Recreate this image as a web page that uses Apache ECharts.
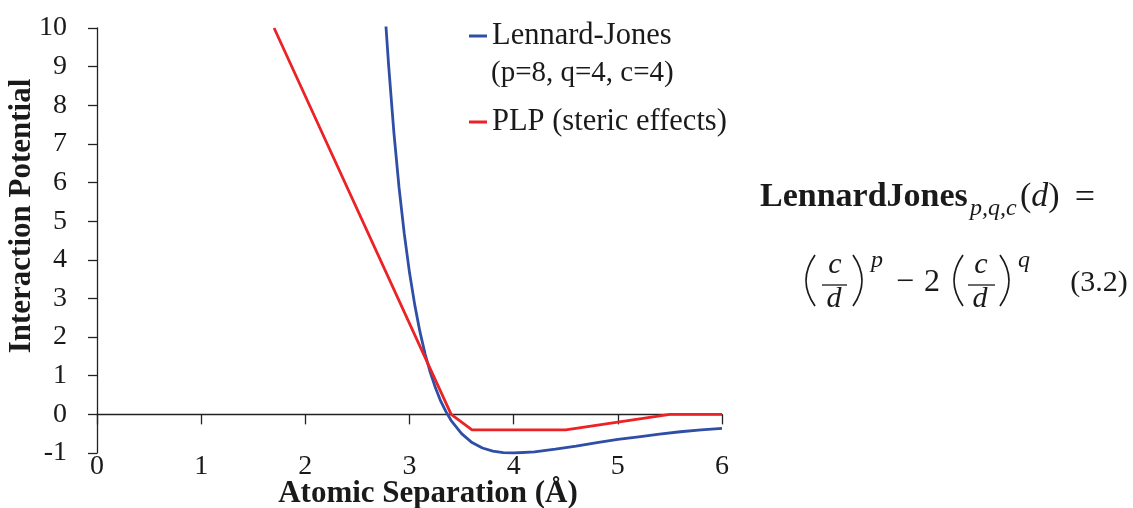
<!DOCTYPE html>
<html>
<head>
<meta charset="utf-8">
<script src="https://cdn.jsdelivr.net/npm/echarts@6/dist/echarts.min.js"></script>
<style>html,body{margin:0;padding:0;background:#fff;}#c{width:1133px;height:508px;}</style>
</head>
<body>
<div id="c"></div>
<script>
// ---- data ----
const xTicks = [0, 1, 2, 3, 4, 5, 6];
const yTicks = [-1, 0, 1, 2, 3, 4, 5, 6, 7, 8, 9, 10];
const ljName = 'Lennard-Jones';
const ljParams = '(p=8, q=4, c=4)';
const plpName = 'PLP (steric effects)';
const ljD = [2.77, 2.8, 2.85, 2.9, 2.95, 3.0, 3.05, 3.1, 3.15, 3.2, 3.25, 3.3, 3.35, 3.4, 3.5, 3.6, 3.7, 3.8, 3.9, 4.0, 4.2, 4.4, 4.6, 4.8, 5.0, 5.2, 5.4, 5.6, 5.8, 6.0];
const ljV = [10.2, 9.02, 7.30, 5.86, 4.67, 3.67, 2.84, 2.14, 1.56, 1.08, 0.68, 0.34, 0.07, -0.16, -0.50, -0.73, -0.87, -0.95, -0.99, -1.0, -0.97, -0.90, -0.82, -0.73, -0.65, -0.58, -0.51, -0.45, -0.40, -0.36];
const plpD = [1.7, 3.4, 3.6, 4.5, 5.5, 6.0];
const plpV = [10, 0, -0.4, -0.4, 0, 0];
const xTitle = 'Atomic Separation (Å)';
const yTitle = 'Interaction Potential';

const FONT = "'Liberation Serif', 'DejaVu Serif', serif";
const BLUE = '#2f4ea6';
const RED = '#ec2226';
const AX = '#222';
const TXT = '#1a1a1a';

const chart = echarts.init(document.getElementById('c'));
const G = {left: 97, top: 28, right: 411, bottom: 55};

function t(x, y, text, font, extra) {
  return {type: 'text', x: x, y: y, style: Object.assign({text: text, font: font + ' ' + FONT, fill: TXT, align: 'center', verticalAlign: 'middle'}, extra || {})};
}
// thin formula parenthesis (decoration)
function paren(xEdge, bulge) {
  return {type: 'bezierCurve', shape: {x1: xEdge, y1: 255, x2: xEdge, y2: 306, cpx1: xEdge + bulge, cpy1: 280.5},
    style: {stroke: TXT, lineWidth: 1.7, fill: null}};
}

chart.setOption({
  animation: false,
  backgroundColor: '#fff',
  grid: G,
  legend: {
    orient: 'vertical',
    left: 469, top: 20, padding: 0,
    itemWidth: 18, itemHeight: 3, itemGap: 54,
    icon: 'rect',
    textStyle: {fontFamily: FONT, fontSize: 30.5, color: TXT, lineHeight: 32},
    data: [ljName, plpName]
  },
  xAxis: [
    {type: 'value', min: xTicks[0], max: xTicks[xTicks.length - 1], interval: 1, position: 'top',
     axisLine: {show: true, onZero: true, lineStyle: {color: AX, width: 1.3}},
     axisTick: {show: true, inside: true, length: 10, lineStyle: {color: AX, width: 1.3}},
     axisLabel: {show: false}, splitLine: {show: false}},
    {type: 'value', min: xTicks[0], max: xTicks[xTicks.length - 1], interval: 1, position: 'bottom',
     axisLine: {show: false, onZero: false}, axisTick: {show: false}, splitLine: {show: false},
     axisLabel: {show: true, margin: 0, fontFamily: FONT, fontSize: 28, color: TXT,
       formatter: v => xTicks.includes(v) ? String(v) : ''}}
  ],
  yAxis: {
    type: 'value', min: yTicks[0], max: yTicks[yTicks.length - 1], interval: 1,
    axisLine: {show: true, onZero: false, lineStyle: {color: AX, width: 1.3}},
    axisTick: {show: true, length: 9, lineStyle: {color: AX, width: 1.3}},
    splitLine: {show: false},
    axisLabel: {margin: 30, fontFamily: FONT, fontSize: 28, color: TXT,
      formatter: v => yTicks.includes(v) ? String(v) : ''}
  },
  series: [
    {name: ljName, type: 'line', xAxisIndex: 0, data: ljD.map((d, i) => [d, ljV[i]]),
     showSymbol: false, smooth: false, clip: true, color: BLUE, lineStyle: {color: BLUE, width: 2.8}, z: 3},
    {name: plpName, type: 'line', xAxisIndex: 0, data: plpD.map((d, i) => [d, plpV[i]]),
     showSymbol: false, clip: true, color: RED, lineStyle: {color: RED, width: 2.8}, z: 4}
  ],
  graphic: [
    t(491, 73, ljParams, '29px', {align: 'left'}),
    t(428, 494, xTitle, 'bold 31px'),
    Object.assign(t(22, 216, yTitle, 'bold 31px'), {rotation: Math.PI / 2}),
    // formula line 1 (baseline ~208)
    t(760, 197, 'LennardJones', 'bold 34px', {align: 'left'}),
    t(970, 209, 'p,q,c', 'italic 24px', {align: 'left'}),
    {type: 'text', x: 1020, y: 197, style: {
      text: '{p|(}{i|d}{p|)}', align: 'left', verticalAlign: 'middle', fill: TXT,
      rich: {p: {font: '34px ' + FONT, fill: TXT}, i: {font: 'italic 34px ' + FONT, fill: TXT}}}},
    t(1085, 199, '=', '36px'),
    // formula line 2 (fraction bar ~285)
    paren(815, -18),
    t(835, 265, 'c', 'italic 30px'),
    {type: 'line', shape: {x1: 822, y1: 285, x2: 847, y2: 285}, style: {stroke: TXT, lineWidth: 1.3}},
    t(834, 299, 'd', 'italic 30px'),
    paren(853, 18),
    t(877, 261, 'p', 'italic 24px'),
    t(905, 283, '−', '32px'),
    t(932, 283, '2', '32px'),
    paren(963, -18),
    t(981, 265, 'c', 'italic 30px'),
    {type: 'line', shape: {x1: 968, y1: 285, x2: 995, y2: 285}, style: {stroke: TXT, lineWidth: 1.3}},
    t(980, 299, 'd', 'italic 30px'),
    paren(1000, 18),
    t(1024, 261, 'q', 'italic 24px'),
    t(1099, 283, '(3.2)', '30px')
  ]
});
</script>
</body>
</html>
